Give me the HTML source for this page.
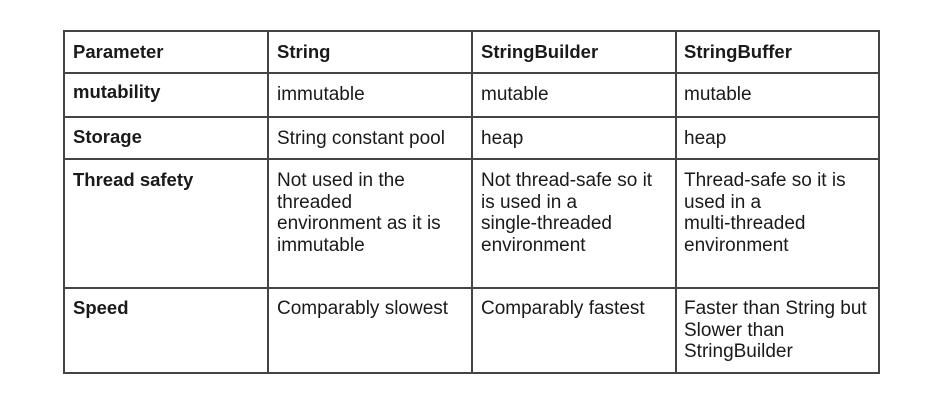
<!DOCTYPE html>
<html><head><style>
body{margin:0;width:937px;height:400px;background:#fff;position:relative;font-family:"Liberation Sans",Arial,sans-serif;color:#1a1a1a;overflow:hidden}
.h{position:absolute;height:1.5px;background:#444;left:63px;width:817px}
.v{position:absolute;width:1.5px;background:#444;top:30px;height:344px}
.t{position:absolute;font-size:19px;line-height:21.7px;white-space:nowrap}
.b{font-weight:bold;font-size:18.5px}
</style></head><body>
<div class="h" style="top:30px"></div>
<div class="h" style="top:72px"></div>
<div class="h" style="top:116px"></div>
<div class="h" style="top:158px"></div>
<div class="h" style="top:287px"></div>
<div class="h" style="top:372px"></div>
<div class="v" style="left:63px"></div>
<div class="v" style="left:267px"></div>
<div class="v" style="left:471px"></div>
<div class="v" style="left:675px"></div>
<div class="v" style="left:878px"></div>

<div class="t b" style="left:73px;top:41px">Parameter</div>
<div class="t b" style="left:277px;top:41px">String</div>
<div class="t b" style="left:481px;top:41px">StringBuilder</div>
<div class="t b" style="left:684px;top:41px">StringBuffer</div>

<div class="t b" style="left:73px;top:81px">mutability</div>
<div class="t" style="left:277px;top:84px">immutable</div>
<div class="t" style="left:481px;top:84px">mutable</div>
<div class="t" style="left:684px;top:84px">mutable</div>

<div class="t b" style="left:73px;top:126px">Storage</div>
<div class="t" style="left:277px;top:128px">String constant pool</div>
<div class="t" style="left:481px;top:128px">heap</div>
<div class="t" style="left:684px;top:128px">heap</div>

<div class="t b" style="left:73px;top:169px">Thread safety</div>
<div class="t" style="left:277px;top:170px">Not used in the<br>threaded<br>environment as it is<br>immutable</div>
<div class="t" style="left:481px;top:170px">Not thread-safe so it<br>is used in a<br>single-threaded<br>environment</div>
<div class="t" style="left:684px;top:170px">Thread-safe so it is<br>used in a<br>multi-threaded<br>environment</div>

<div class="t b" style="left:73px;top:297px">Speed</div>
<div class="t" style="left:277px;top:298px">Comparably slowest</div>
<div class="t" style="left:481px;top:298px">Comparably fastest</div>
<div class="t" style="left:684px;top:298px">Faster than String but<br>Slower than<br>StringBuilder</div>
</body></html>
